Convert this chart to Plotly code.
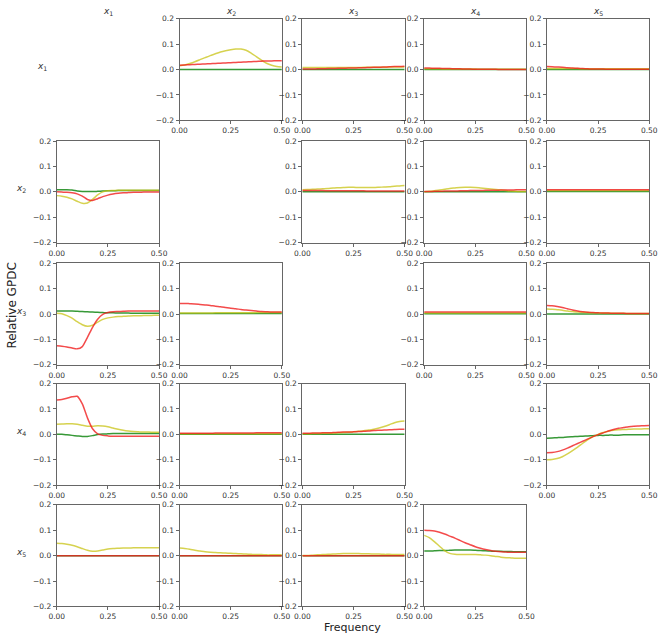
import plotly.graph_objects as go

W, H = 669, 640

freq = [0.0, 0.025, 0.05, 0.075, 0.1, 0.125, 0.15, 0.175, 0.2, 0.225, 0.25,
        0.275, 0.3, 0.325, 0.35, 0.375, 0.4, 0.425, 0.45, 0.475, 0.5]

var_labels = ["<i>x</i><sub>1</sub>", "<i>x</i><sub>2</sub>", "<i>x</i><sub>3</sub>",
              "<i>x</i><sub>4</sub>", "<i>x</i><sub>5</sub>"]
y_tickvals = [-0.2, -0.1, 0.0, 0.1, 0.2]
y_ticktext = ["\u22120.2", "\u22120.1", "0.0", "0.1", "0.2"]
x_tickvals = [0.0, 0.25, 0.5]
x_ticktext = ["0.00", "0.25", "0.50"]

Z = [0.0] * 21

# ---- row x1 ----
c12_green = Z
c12_yellow = [0.015, 0.018, 0.024, 0.031, 0.039, 0.047, 0.055, 0.062, 0.069, 0.074, 0.078,
              0.081, 0.081, 0.076, 0.065, 0.051, 0.037, 0.025, 0.017, 0.012, 0.010]
c12_red = [0.017, 0.018, 0.019, 0.020, 0.021, 0.022, 0.023, 0.024, 0.025, 0.026, 0.027,
           0.028, 0.029, 0.030, 0.031, 0.032, 0.033, 0.034, 0.034, 0.035, 0.035]

c13_green = Z
c13_yellow = [0.008, 0.008, 0.008, 0.008, 0.008, 0.008, 0.008, 0.008, 0.008, 0.008, 0.008,
              0.008, 0.009, 0.009, 0.009, 0.009, 0.009, 0.010, 0.010, 0.010, 0.010]
c13_red = [0.002, 0.002, 0.002, 0.003, 0.003, 0.004, 0.004, 0.005, 0.005, 0.006, 0.006,
           0.007, 0.007, 0.008, 0.009, 0.009, 0.010, 0.011, 0.012, 0.012, 0.013]

c14_green = Z
c14_yellow = [0.003, 0.003, 0.003, 0.003, 0.002, 0.002, 0.002, 0.002, 0.002, 0.002, 0.002,
              0.001, 0.001, 0.001, 0.001, 0.001, 0.001, 0.001, 0.001, 0.001, 0.001]
c14_red = [0.006, 0.006, 0.005, 0.005, 0.004, 0.004, 0.003, 0.003, 0.002, 0.002, 0.001,
           0.001, 0.001, 0.001, 0.001, 0.000, 0.000, 0.000, 0.000, 0.000, 0.000]

c15_green = Z
c15_yellow = [0.004, 0.004, 0.004, 0.004, 0.004, 0.004, 0.004, 0.003, 0.003, 0.003, 0.003,
              0.003, 0.003, 0.003, 0.003, 0.003, 0.003, 0.003, 0.003, 0.003, 0.003]
c15_red = [0.012, 0.011, 0.010, 0.009, 0.007, 0.006, 0.005, 0.004, 0.003, 0.002, 0.002,
           0.002, 0.001, 0.001, 0.001, 0.001, 0.001, 0.001, 0.001, 0.001, 0.001]

# ---- row x2 ----
c21_green = [0.008, 0.008, 0.008, 0.007, 0.003, 0.001, 0.001, 0.001, 0.002, 0.003, 0.004,
             0.004, 0.005, 0.005, 0.005, 0.005, 0.005, 0.005, 0.005, 0.005, 0.005]
c21_yellow = [-0.015, -0.017, -0.021, -0.028, -0.037, -0.045, -0.044, -0.030, -0.012, 0.000, 0.004,
              0.005, 0.006, 0.006, 0.006, 0.006, 0.006, 0.006, 0.006, 0.006, 0.006]
c21_red = [0.000, -0.001, -0.002, -0.004, -0.008, -0.017, -0.030, -0.034, -0.027, -0.019, -0.013,
           -0.009, -0.006, -0.004, -0.003, -0.002, -0.002, -0.001, -0.001, -0.001, -0.001]

c23_green = Z
c23_yellow = [0.008, 0.009, 0.010, 0.011, 0.012, 0.013, 0.015, 0.016, 0.017, 0.018, 0.018,
              0.017, 0.017, 0.017, 0.017, 0.018, 0.019, 0.020, 0.022, 0.023, 0.025]
c23_red = [0.005, 0.005, 0.005, 0.005, 0.005, 0.004, 0.004, 0.004, 0.004, 0.004, 0.004,
           0.004, 0.004, 0.003, 0.003, 0.003, 0.003, 0.003, 0.003, 0.003, 0.003]

c24_green = Z
c24_yellow = [0.000, 0.002, 0.004, 0.007, 0.010, 0.013, 0.015, 0.017, 0.018, 0.018, 0.017,
              0.015, 0.013, 0.011, 0.009, 0.007, 0.005, 0.003, 0.002, 0.001, 0.001]
c24_red = [0.001, 0.001, 0.002, 0.002, 0.003, 0.003, 0.003, 0.004, 0.004, 0.005, 0.005,
           0.005, 0.006, 0.006, 0.006, 0.007, 0.007, 0.007, 0.008, 0.008, 0.008]

c25_green = [0.001] * 21
c25_yellow = [0.005] * 21
c25_red = [0.008] * 21

# ---- row x3 ----
c31_green = [0.012, 0.012, 0.012, 0.012, 0.011, 0.010, 0.009, 0.008, 0.007, 0.006, 0.005,
             0.005, 0.004, 0.004, 0.004, 0.003, 0.003, 0.003, 0.003, 0.003, 0.003]
c31_yellow = [0.003, 0.001, -0.006, -0.016, -0.030, -0.042, -0.048, -0.044, -0.032, -0.021, -0.015,
              -0.012, -0.010, -0.009, -0.008, -0.007, -0.007, -0.006, -0.006, -0.005, -0.005]
c31_red = [-0.125, -0.127, -0.130, -0.134, -0.137, -0.128, -0.092, -0.052, -0.020, -0.001, 0.006,
           0.009, 0.010, 0.011, 0.012, 0.012, 0.012, 0.012, 0.012, 0.012, 0.012]

c32_green = [0.002] * 21
c32_yellow = [0.004, 0.004, 0.004, 0.004, 0.004, 0.004, 0.004, 0.005, 0.005, 0.005, 0.005,
              0.005, 0.005, 0.005, 0.005, 0.006, 0.006, 0.006, 0.006, 0.006, 0.006]
c32_red = [0.042, 0.042, 0.041, 0.040, 0.038, 0.036, 0.034, 0.031, 0.029, 0.026, 0.023,
           0.021, 0.018, 0.016, 0.014, 0.012, 0.010, 0.009, 0.008, 0.008, 0.008]

c34_green = [0.001] * 21
c34_yellow = [0.004] * 21
c34_red = [0.008] * 21

c35_green = Z
c35_yellow = [0.020, 0.019, 0.017, 0.015, 0.012, 0.010, 0.008, 0.007, 0.006, 0.005, 0.005,
              0.004, 0.004, 0.003, 0.003, 0.003, 0.002, 0.002, 0.002, 0.002, 0.002]
c35_red = [0.034, 0.033, 0.030, 0.026, 0.021, 0.016, 0.012, 0.009, 0.007, 0.006, 0.005,
           0.004, 0.004, 0.003, 0.003, 0.003, 0.002, 0.002, 0.002, 0.002, 0.002]

# ---- row x4 ----
c41_green = [0.000, 0.000, -0.002, -0.004, -0.006, -0.008, -0.008, -0.005, -0.001, 0.001, 0.002,
             0.003, 0.003, 0.003, 0.003, 0.003, 0.003, 0.003, 0.003, 0.003, 0.003]
c41_yellow = [0.040, 0.041, 0.042, 0.042, 0.040, 0.036, 0.032, 0.032, 0.034, 0.033, 0.030,
              0.025, 0.020, 0.016, 0.013, 0.011, 0.010, 0.009, 0.009, 0.008, 0.008]
c41_red = [0.135, 0.137, 0.142, 0.148, 0.150, 0.120, 0.065, 0.022, 0.002, -0.004, -0.006,
           -0.007, -0.007, -0.007, -0.007, -0.007, -0.007, -0.007, -0.007, -0.007, -0.007]

c42_green = Z
c42_yellow = [0.002] * 21
c42_red = [0.004, 0.004, 0.004, 0.004, 0.004, 0.004, 0.004, 0.005, 0.005, 0.005, 0.005,
           0.005, 0.005, 0.005, 0.005, 0.006, 0.006, 0.006, 0.006, 0.006, 0.006]

c43_green = Z
c43_yellow = [0.002, 0.002, 0.003, 0.003, 0.004, 0.004, 0.005, 0.006, 0.007, 0.008, 0.010,
              0.012, 0.014, 0.017, 0.020, 0.025, 0.031, 0.038, 0.046, 0.051, 0.053]
c43_red = [0.004, 0.004, 0.005, 0.005, 0.006, 0.006, 0.007, 0.008, 0.009, 0.009, 0.010,
           0.011, 0.012, 0.013, 0.015, 0.016, 0.017, 0.018, 0.019, 0.020, 0.020]

c45_green = [-0.015, -0.014, -0.013, -0.012, -0.010, -0.009, -0.008, -0.007, -0.006, -0.005, -0.004,
             -0.004, -0.003, -0.003, -0.003, -0.002, -0.002, -0.002, -0.002, -0.002, -0.002]
c45_yellow = [-0.100, -0.099, -0.095, -0.088, -0.077, -0.064, -0.050, -0.035, -0.021, -0.009, 0.000,
              0.007, 0.012, 0.016, 0.018, 0.019, 0.020, 0.021, 0.021, 0.022, 0.022]
c45_red = [-0.072, -0.071, -0.068, -0.062, -0.054, -0.045, -0.036, -0.027, -0.018, -0.009, -0.001,
           0.006, 0.013, 0.019, 0.024, 0.027, 0.030, 0.032, 0.033, 0.034, 0.035]

# ---- row x5 ----
c51_green = Z
c51_yellow = [0.049, 0.048, 0.045, 0.041, 0.035, 0.028, 0.021, 0.017, 0.018, 0.022, 0.026,
              0.028, 0.029, 0.030, 0.030, 0.031, 0.031, 0.031, 0.031, 0.031, 0.031]
c51_red = Z

c52_green = Z
c52_yellow = [0.030, 0.028, 0.025, 0.021, 0.018, 0.015, 0.013, 0.012, 0.011, 0.010, 0.009,
              0.008, 0.007, 0.006, 0.005, 0.004, 0.004, 0.003, 0.003, 0.003, 0.003]
c52_red = Z

c53_green = Z
c53_yellow = [0.001, 0.001, 0.002, 0.003, 0.004, 0.005, 0.006, 0.007, 0.008, 0.008, 0.008,
              0.008, 0.007, 0.007, 0.006, 0.006, 0.005, 0.005, 0.004, 0.004, 0.004]
c53_red = Z

c54_green = [0.018, 0.018, 0.019, 0.020, 0.020, 0.021, 0.022, 0.022, 0.022, 0.022, 0.021,
             0.020, 0.019, 0.018, 0.017, 0.017, 0.016, 0.016, 0.015, 0.015, 0.015]
c54_yellow = [0.080, 0.071, 0.055, 0.037, 0.020, 0.009, 0.005, 0.004, 0.004, 0.004, 0.004,
              0.003, 0.002, 0.000, -0.003, -0.006, -0.008, -0.009, -0.010, -0.010, -0.010]
c54_red = [0.100, 0.099, 0.097, 0.092, 0.085, 0.077, 0.069, 0.060, 0.051, 0.043, 0.035,
           0.029, 0.024, 0.020, 0.017, 0.015, 0.014, 0.013, 0.013, 0.013, 0.013]

cells = {}
g = globals()
for i in range(1, 6):
    for j in range(1, 6):
        if i != j:
            cells[(i, j)] = (g[f"c{i}{j}_green"], g[f"c{i}{j}_yellow"], g[f"c{i}{j}_red"])

colors = ["rgba(20,135,20,0.85)", "rgba(200,195,20,0.75)", "rgba(240,30,30,0.8)"]

col_left = [50, 176, 302, 427, 553]
row_top = [15, 139, 263, 385, 508]
pw, ph = 105, 103

fig = go.Figure()
axis_common = dict(showline=True, mirror=True, linecolor="#666", linewidth=1,
                   ticks="outside", ticklen=3, tickcolor="#666", tickwidth=1,
                   showgrid=False, zeroline=False,
                   tickfont=dict(family="DejaVu Sans", size=7.5, color="#333"))
k = 0
for (i, j), series in cells.items():
    k += 1
    xa = "xaxis" if k == 1 else f"xaxis{k}"
    ya = "yaxis" if k == 1 else f"yaxis{k}"
    xr = "x" if k == 1 else f"x{k}"
    yr = "y" if k == 1 else f"y{k}"
    x0 = col_left[j - 1] / W
    x1 = (col_left[j - 1] + pw) / W
    y1 = 1 - row_top[i - 1] / H
    y0 = 1 - (row_top[i - 1] + ph) / H
    fig.layout[xa] = dict(domain=[x0, x1], anchor=yr, range=[0, 0.5],
                          tickvals=x_tickvals, ticktext=x_ticktext, **axis_common)
    fig.layout[ya] = dict(domain=[y0, y1], anchor=xr, range=[-0.2, 0.2],
                          tickvals=y_tickvals, ticktext=y_ticktext, **axis_common)
    for s, c in zip(series, colors):
        fig.add_trace(go.Scatter(x=freq, y=s, mode="lines", xaxis=xr, yaxis=yr,
                                 line=dict(color=c, width=1.5, shape="spline", smoothing=0.6),
                                 showlegend=False, hoverinfo="skip"))

ann = []
for j in range(5):
    ann.append(dict(x=(col_left[j] + pw / 2) / W, y=1 - 8 / H, xref="paper", yref="paper",
                    text=var_labels[j], showarrow=False, xanchor="center", yanchor="middle",
                    font=dict(family="DejaVu Sans", size=9, color="#333")))
row_label_x = [35, 13, 13, 13, 13]
for i in range(5):
    ann.append(dict(x=row_label_x[i] / W, y=1 - (row_top[i] + ph / 2 - 3) / H,
                    xref="paper", yref="paper",
                    text=var_labels[i], showarrow=False, xanchor="center", yanchor="middle",
                    font=dict(family="DejaVu Sans", size=9, color="#333")))
ann.append(dict(x=353 / W, y=1 - 632 / H, xref="paper", yref="paper", text="Frequency",
                showarrow=False, xanchor="center", yanchor="middle",
                font=dict(family="DejaVu Sans", size=11, color="#222")))
ann.append(dict(x=4 / W, y=1 - 306 / H, xref="paper", yref="paper", text="Relative GPDC",
                showarrow=False, textangle=-90, xanchor="center", yanchor="middle",
                font=dict(family="DejaVu Sans", size=12, color="#222")))

fig.update_layout(width=W, height=H, margin=dict(l=0, r=0, t=0, b=0),
                  paper_bgcolor="white", plot_bgcolor="white", annotations=ann)
fig.write_html("out.html")
